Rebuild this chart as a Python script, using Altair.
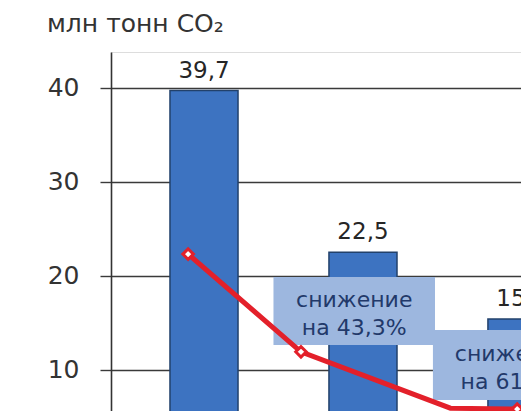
import altair as alt
import pandas as pd

# ---- data ----
title_text = "млн тонн CO₂"
bar_pos = [1, 2, 3]
bar_values = [39.7, 22.5, 15.4]
bar_labels = ["39,7", "22,5", "15,4"]

line_pos = [0.9, 1.61, 2.55, 2.97]
line_values = [22.3, 11.9, 5.9, 5.8]
line_marked = [True, True, False, True]

note_texts = ["снижение\nна 43,3%", "снижение\nна 61,2%"]
note_x = [1.437, 2.44]
note_x2 = [2.453, 3.447]
note_y = [19.86, 14.23]
note_y2 = [12.63, 6.77]

y_ticks = [10, 20, 30, 40]

FONT = "DejaVu Sans"
BAR_HALF = 0.214
RED = "#e3202a"

bars_df = pd.DataFrame({"pos": bar_pos, "value": bar_values, "label": bar_labels})
line_df = pd.DataFrame({"pos": line_pos, "value": line_values, "marked": line_marked})
notes_df = pd.DataFrame({"text": note_texts, "x": note_x, "x2": note_x2,
                         "y": note_y, "y2": note_y2})
notes_df["xc"] = (notes_df["x"] + notes_df["x2"]) / 2
notes_df["yc"] = (notes_df["y"] + notes_df["y2"]) / 2
title_df = pd.DataFrame({"t": [title_text]})

xs = alt.Scale(domain=[0.415, 2.994], nice=False, zero=False)
ys = alt.Scale(domain=[5.6, 43.81], nice=False, zero=False)

y_axis = alt.Axis(values=y_ticks, title=None, grid=True, gridColor="#3a3a3a",
                  gridWidth=1.4, domainColor="#333333", domainWidth=1.6,
                  tickColor="#3a3a3a", tickWidth=1.4, tickSize=11,
                  labelFont=FONT, labelFontSize=25, labelColor="#333333",
                  labelPadding=21)

bars = alt.Chart(bars_df).transform_calculate(
    left=f"datum.pos - {BAR_HALF}", right=f"datum.pos + {BAR_HALF}"
).mark_bar(color="#3d73c1", stroke="#22416b", strokeWidth=1.5, clip=True).encode(
    x=alt.X("left:Q", scale=xs, axis=None),
    x2="right:Q",
    y=alt.Y("value:Q", scale=ys, axis=y_axis),
    y2=alt.datum(0),
)

bar_text = alt.Chart(bars_df).mark_text(
    font=FONT, fontSize=23, color="#262626", baseline="alphabetic", dy=-13
).encode(
    x=alt.X("pos:Q", scale=xs),
    y=alt.Y("value:Q", scale=ys),
    text="label:N",
)

boxes = alt.Chart(notes_df).mark_rect(color="#9db7df", clip=True).encode(
    x=alt.X("x:Q", scale=xs), x2="x2:Q",
    y=alt.Y("y:Q", scale=ys), y2="y2:Q",
)

box_text = alt.Chart(notes_df).mark_text(
    font=FONT, fontSize=22, color="#22396a", lineBreak="\n", lineHeight=28,
    baseline="middle", align="center", dy=-11
).encode(
    x=alt.X("xc:Q", scale=xs),
    y=alt.Y("yc:Q", scale=ys),
    text="text:N",
)

line = alt.Chart(line_df).mark_line(color=RED, strokeWidth=5, clip=True).encode(
    x=alt.X("pos:Q", scale=xs),
    y=alt.Y("value:Q", scale=ys),
)

points = alt.Chart(line_df).transform_filter("datum.marked").mark_point(
    shape="diamond", size=110, filled=True, fill="white", stroke=RED,
    strokeWidth=3, opacity=1, clip=True
).encode(
    x=alt.X("pos:Q", scale=xs),
    y=alt.Y("value:Q", scale=ys),
)

title = alt.Chart(title_df).mark_text(
    font=FONT, fontSize=25, color="#333333", align="left", baseline="alphabetic"
).encode(
    x=alt.value(-64), y=alt.value(-20.5), text="t:N"
)

chart = alt.layer(bars, bar_text, boxes, box_text, line, points, title).properties(
    width=410, height=359,
    autosize=alt.AutoSizeParams(type="none"),
    padding={"left": 103, "top": 44, "right": 0, "bottom": 0},
).configure_view(stroke=None).configure(background="white")

chart.save("out.html", embed_options={"renderer": "svg", "actions": False})
